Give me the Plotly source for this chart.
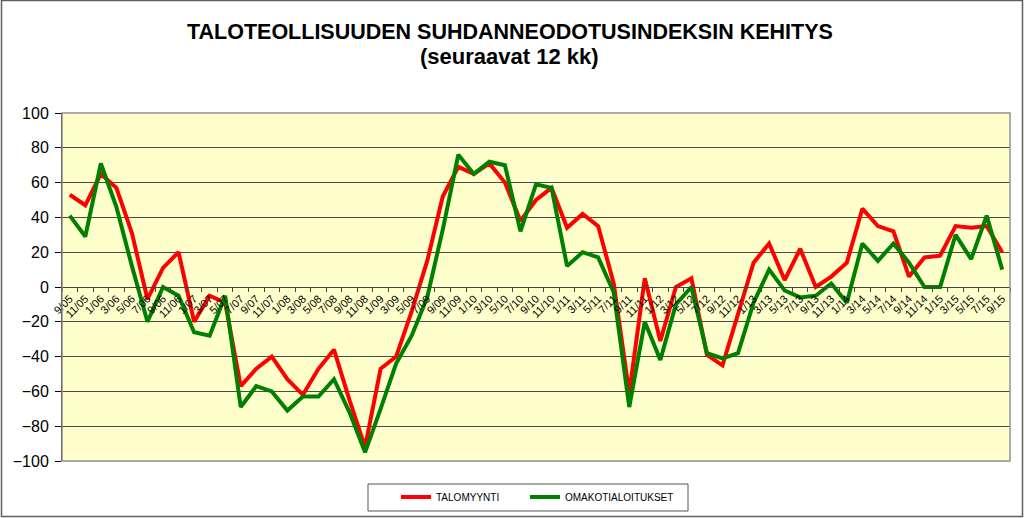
import plotly.graph_objects as go

categories = ["9/05","11/05","1/06","3/06","5/06","7/06","9/06","11/06","1/07","3/07","5/07","7/07",
              "9/07","11/07","1/08","3/08","5/08","7/08","9/08","11/08","1/09","3/09","5/09","7/09",
              "9/09","11/09","1/10","3/10","5/10","7/10","9/10","11/10","1/11","3/11","5/11","7/11",
              "9/11","11/11","1/12","3/12","5/12","7/12","9/12","11/12","1/13","3/13","5/13","7/13",
              "9/13","11/13","1/14","3/14","5/14","7/14","9/14","11/14","1/15","3/15","5/15","7/15","9/15"]

talomyynti = [53,47,65,57,31,-7,11,20,-20,-5,-9,-57,-47,-40,-53,-62,-47,-36,-65,-92,-47,-40,-14,15,52,
              69,65,71,60,38,50,57,34,42,35,2,-61,5,-31,0,5,-39,-45,-15,14,25,4,22,0,6,14,45,35,32,6,
              17,18,35,34,35,20]

omakotialoitukset = [41,29,71,46,12,-20,0,-5,-26,-28,-5,-69,-57,-60,-71,-63,-63,-53,-72,-95,-70,-44,-28,-6,33,
                     76,65,72,70,32,59,57,12,20,17,-3,-69,-20,-42,-10,0,-38,-41,-38,-9,10,-2,-6,-5,2,-9,25,
                     15,25,14,0,0,30,16,41,10]

series_names = ["TALOMYYNTI", "OMAKOTIALOITUKSET"]
y_ticks = [-100, -80, -60, -40, -20, 0, 20, 40, 60, 80, 100]

W, H = 1024, 518
L, R, T, B = 62, 1010, 113, 461
pw, ph = R - L, B - T

def px(x):
    return (x - L) / pw

def py(y):
    return (B - y) / ph

FONT = "Liberation Sans, Arial, sans-serif"

fig = go.Figure()
fig.add_trace(go.Scatter(x=categories, y=talomyynti, mode="lines", name=series_names[0],
                         line=dict(color="rgb(255,0,0)", width=4), legend="legend"))
fig.add_trace(go.Scatter(x=categories, y=omakotialoitukset, mode="lines", name=series_names[1],
                         line=dict(color="rgb(0,128,0)", width=4), legend="legend2"))

leg_common = dict(orientation="h", xanchor="left", y=py(497), yanchor="middle",
                  bgcolor="rgba(0,0,0,0)", borderwidth=0, font=dict(size=10, family=FONT),
                  itemwidth=30)

fig.update_layout(
    width=W, height=H,
    margin=dict(l=L, r=W - R, t=T, b=H - B, pad=0, autoexpand=False),
    paper_bgcolor="white",
    plot_bgcolor="#FFFFCC",
    font=dict(family=FONT, color="black"),
    showlegend=True,
    legend=dict(x=px(396), **leg_common),
    legend2=dict(x=px(525), **leg_common),
    xaxis=dict(type="category", anchor="free", position=0.5, range=[-0.5, len(categories) - 0.5],
               showgrid=False, showline=True, linecolor="#444444", linewidth=1,
               ticks="outside", ticklen=4, tickcolor="#444444", tickson="boundaries",
               tickangle=-45, tickfont=dict(size=11, family=FONT), zeroline=False),
    yaxis=dict(range=[-100, 100], tickvals=y_ticks, showgrid=True, gridcolor="#4a4a4a", gridwidth=1,
               showline=True, linecolor="black", linewidth=1, ticks="outside", ticklen=6,
               tickcolor="black", tickfont=dict(size=16, family=FONT), zeroline=False,
               ticklabelstandoff=3),
    annotations=[
        dict(text="<b>TALOTEOLLISUUDEN SUHDANNEODOTUSINDEKSIN KEHITYS</b>", xref="paper", yref="paper",
             x=px(510), y=py(32), xanchor="center", yanchor="middle", showarrow=False,
             font=dict(size=21.5, family=FONT)),
        dict(text="<b>(seuraavat 12 kk)</b>", xref="paper", yref="paper",
             x=px(509), y=py(57), xanchor="center", yanchor="middle", showarrow=False,
             font=dict(size=22, family=FONT)),
    ],
    shapes=[
        dict(type="rect", xref="paper", yref="paper", x0=0, x1=1, y0=0, y1=1,
             line=dict(color="#909090", width=1.5), layer="above"),
        dict(type="rect", xref="paper", yref="paper", x0=px(368), x1=px(688), y0=py(511), y1=py(484),
             line=dict(color="#555555", width=1)),
        dict(type="rect", xref="paper", yref="paper", x0=px(1.5), x1=px(1022.5), y0=py(516.5), y1=py(0.5),
             line=dict(color="#606060", width=1.5)),
    ],
)

fig.write_html("out.html", config={"displayModeBar": False},
               post_script="document.body.style.margin='0';document.body.style.overflow='hidden';")
